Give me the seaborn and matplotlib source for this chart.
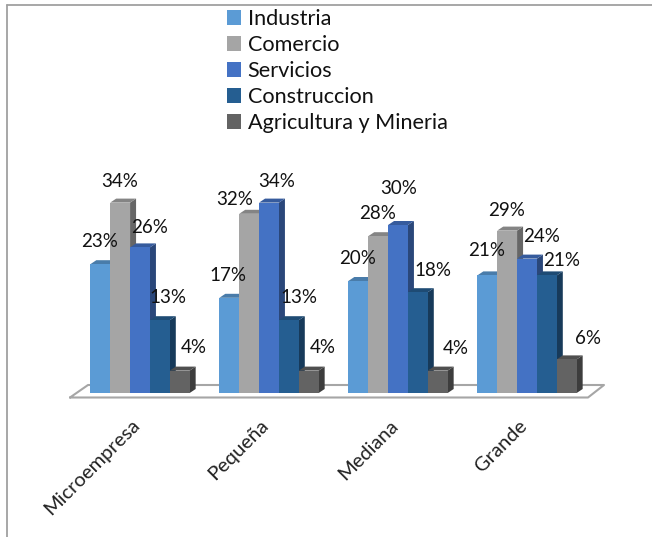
import numpy as np
import pandas as pd
import matplotlib
matplotlib.use("Agg")
import matplotlib.pyplot as plt
import matplotlib.colors as mcolors
from matplotlib.patches import Polygon
from matplotlib.transforms import ScaledTranslation
import seaborn as sns

# Data
categories = ["Microempresa", "Pequeña", "Mediana", "Grande"]
series_names = ["Industria", "Comercio", "Servicios", "Construccion", "Agricultura y Mineria"]
industria = [23, 17, 20, 21]
comercio = [34, 32, 28, 29]
servicios = [26, 34, 30, 24]
construccion = [13, 13, 18, 21]
agricultura = [4, 4, 4, 6]

colors = ["#5B9BD5", "#A5A5A5", "#4472C4", "#255E91", "#636363"]

# label offsets from the top centre of each bar, in pixels (series x category)
label_dx = [[-1, -1, -1, -1], [0, -14, -1, -1], [10, 8, 1, 15], [8, 10, 15, 15], [14, 14, 18, 21]]
label_dy = [[23, 22, 23, 25], [21, 14, 23, 20], [20, 21, 37, 22], [23, 23, 22, 15], [23, 23, 22, 21]]

W, H = 652, 537
DEPTH_X, DEPTH_Y = 6, 4

sns.set_theme(style="white")
plt.rcParams["font.family"] = ["Lato", "DejaVu Sans"]

df = pd.DataFrame({"categoria": categories, "Industria": industria, "Comercio": comercio,
                   "Servicios": servicios, "Construccion": construccion,
                   "Agricultura y Mineria": agricultura})
df = df.melt(id_vars="categoria", var_name="sector", value_name="valor")

fig = plt.figure(figsize=(W / 100, H / 100), dpi=100)
ax = fig.add_axes([75.5 / W, (H - 393) / H, 516 / W, 224 / H])

sns.barplot(data=df, x="categoria", y="valor", hue="sector", order=categories,
            hue_order=series_names, palette=colors, width=0.77, saturation=1,
            linewidth=0, ax=ax)
ax.set_xlim(-0.5, 3.5)
ax.set_ylim(0, 40)
ax.set_xlabel("")
ax.set_ylabel("")
ax.set_yticks([])
ax.patch.set_alpha(0)
sns.despine(ax=ax, left=True, bottom=True)

# pixel to data scale for the fake 3d depth
sx = 4 / 516
sy = 40 / 224
dx, dy = DEPTH_X * sx, DEPTH_Y * sy


def shade(color, f):
    r, g, b = mcolors.to_rgb(color)
    return (r * f, g * f, b * f)


def fig_line(xs, ys, **kw):
    line = plt.Line2D(np.array(xs) / W, 1 - np.array(ys) / H, transform=fig.transFigure, **kw)
    fig.add_artist(line)
    return line


# floor, drawn behind the bars, in figure pixels
floor = dict(color="#A6A6A6", lw=1.5, zorder=0)
fig_line([70, 588, 604, 88, 70], [397.5, 397.5, 385, 385, 397.5], **floor)

# chart frame, only left and top
frame = dict(color="#A0A0A0", lw=1.3, zorder=0)
fig_line([7, 7], [4.5, 537], **frame)
fig_line([7, 652], [4.5, 4.5], **frame)

# bars with side and top faces, labels
for i, cont in enumerate(ax.containers):
    col = colors[i]
    for j, bar in enumerate(cont):
        x0, w, h = bar.get_x(), bar.get_width(), bar.get_height()
        order = 2 + j * 10 + i
        bar.set_zorder(order + 0.5)
        side = Polygon([(x0 + w, 0), (x0 + w + dx, dy), (x0 + w + dx, h + dy), (x0 + w, h)],
                       closed=True, fc=shade(col, 0.62), ec="none", zorder=order, clip_on=False)
        top = Polygon([(x0, h), (x0 + dx, h + dy), (x0 + w + dx, h + dy), (x0 + w, h)],
                      closed=True, fc=shade(col, 0.8), ec="none", zorder=order, clip_on=False)
        ax.add_patch(side)
        ax.add_patch(top)
        ax.annotate(f"{int(h)}%", xy=(x0 + w / 2, h),
                    xytext=(label_dx[i][j] * 0.72, label_dy[i][j] * 0.72),
                    textcoords="offset points", ha="center", va="center",
                    fontsize=13.5, color="#111111", zorder=100, annotation_clip=False)

ax.tick_params(axis="x", length=0, pad=17)
ax.tick_params(axis="y", length=0)
shift = ScaledTranslation(-9 / 100, 0, fig.dpi_scale_trans)
for lab in ax.get_xticklabels():
    lab.set_rotation(45)
    lab.set_ha("right")
    lab.set_rotation_mode("anchor")
    lab.set_fontsize(14.5)
    lab.set_color("#222222")
    lab.set_transform(lab.get_transform() + shift)

leg = ax.legend(loc="upper left", bbox_to_anchor=(227 / W, 1 - 9 / H),
                bbox_transform=fig.transFigure, frameon=False, fontsize=15.6,
                handlelength=0.65, handleheight=0.65, handletextpad=0.3,
                labelspacing=0.28, borderpad=0, borderaxespad=0)
for t in leg.get_texts():
    t.set_color("#111111")

fig.savefig("out.png", dpi=100)
